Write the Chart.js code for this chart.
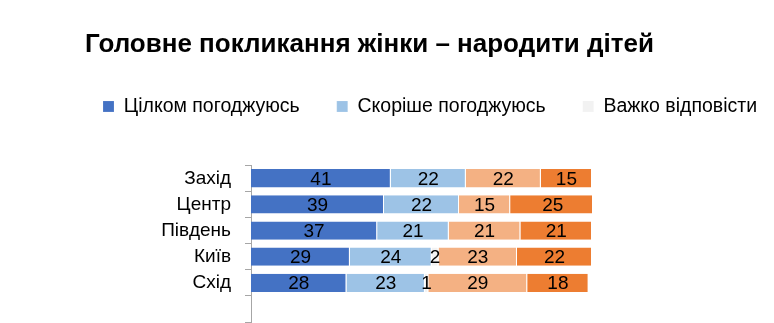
<!DOCTYPE html>
<html>
<head>
<meta charset="utf-8">
<script src="https://cdn.jsdelivr.net/npm/chart.js@4.4.0/dist/chart.umd.min.js"></script>
<style>
  html, body { margin: 0; padding: 0; background: #fff; }
  #wrap { width: 774px; height: 323px; position: relative; }
</style>
</head>
<body>
<div id="wrap"><canvas id="c"></canvas></div>
<script>
// Regions (the last slot is an empty row below the data)
const regions = ['Захід', 'Центр', 'Південь', 'Київ', 'Схід', ''];

// Shares of answers, %
const fullyAgree     = [41, 39, 37, 29, 28];
const ratherAgree    = [22, 22, 21, 24, 23];
const hardToSay      = [0, 0, 0, 2, 1];
const ratherDisagree = [22, 15, 21, 23, 29];
const fullyDisagree  = [15, 25, 21, 22, 18];

const seriesNames = ['Цілком погоджуюсь', 'Скоріше погоджуюсь', 'Важко відповісти',
                     'Скоріше не погоджуюсь', 'Зовсім не погоджуюсь'];
const seriesColors = ['#4472C4', '#9DC3E6', '#F2F2F2', '#F4B183', '#ED7D31'];
const chartTitle = 'Головне покликання жінки – народити дітей';

const FONT = '"Liberation Sans", Arial, sans-serif';
const seriesData = [fullyAgree, ratherAgree, hardToSay, ratherDisagree, fullyDisagree];

// Writes each segment's value in the middle of the segment
const valueLabels = {
  id: 'valueLabels',
  afterDatasetsDraw(chart) {
    const ctx = chart.ctx;
    ctx.save();
    ctx.font = '19px ' + FONT;
    ctx.fillStyle = '#000';
    ctx.textAlign = 'center';
    ctx.textBaseline = 'middle';
    chart.data.datasets.forEach((ds, i) => {
      const meta = chart.getDatasetMeta(i);
      meta.data.forEach((bar, j) => {
        const v = ds.data[j];
        if (!v) return;
        const p = bar.getProps(['x', 'base', 'y'], true);
        ctx.fillText(String(v), (p.x + p.base) / 2, p.y + 1);
      });
    });
    ctx.restore();
  }
};

// Places the title and the legend row at their own offsets
const headerShift = {
  id: 'headerShift',
  afterLayout(chart) {
    const move = (box, dx, dy) => {
      if (!box) return;
      box.left += dx; box.right += dx;
      box.top += dy; box.bottom += dy;
    };
    move(chart.titleBlock, 85, 0);
    move(chart.legend, 66, -39);
  }
};

new Chart(document.getElementById('c'), {
  type: 'bar',
  data: {
    labels: regions,
    datasets: seriesData.map((d, i) => ({
      label: seriesNames[i],
      data: d,
      backgroundColor: seriesColors[i],
      borderColor: 'rgba(255,255,255,0.6)',
      borderWidth: { top: 0, bottom: 0, left: 0, right: 1 },
      borderSkipped: false,
      barPercentage: 0.7,
      categoryPercentage: 1
    }))
  },
  options: {
    indexAxis: 'y',
    responsive: true,
    maintainAspectRatio: false,
    animation: false,
    devicePixelRatio: 1,
    layout: { padding: { left: 0, top: 0, right: 0, bottom: 1 } },
    scales: {
      x: { stacked: true, min: 0, max: 100, display: false },
      y: {
        stacked: true,
        grid: { drawOnChartArea: false, drawTicks: true, tickLength: 6, color: '#A6A6A6', offset: true },
        border: { color: '#A6A6A6', width: 1 },
        ticks: { color: '#000', font: { size: 19, family: FONT }, padding: 14, autoSkip: false },
        afterFit(scale) {
          scale.width = 251;
          scale.paddingTop = 0;
          scale.paddingBottom = 0;
        }
      },
      yPad: {
        type: 'linear',
        position: 'right',
        display: true,
        min: 0, max: 1,
        grid: { display: false },
        border: { display: false },
        ticks: { display: false },
        afterFit(scale) { scale.width = 182; }
      }
    },
    plugins: {
      title: {
        display: true,
        text: chartTitle,
        align: 'start',
        color: '#000',
        font: { size: 26, weight: 'bold', family: FONT },
        padding: { top: 29, bottom: 38.5 }
      },
      legend: {
        position: 'top',
        align: 'start',
        labels: {
          boxWidth: 11,
          boxHeight: 11,
          padding: 37,
          color: '#000',
          font: { size: 19.5, family: FONT },
          filter: (item) => item.datasetIndex < 3
        }
      },
      tooltip: { enabled: false }
    }
  },
  plugins: [valueLabels, headerShift]
});
</script>
</body>
</html>
